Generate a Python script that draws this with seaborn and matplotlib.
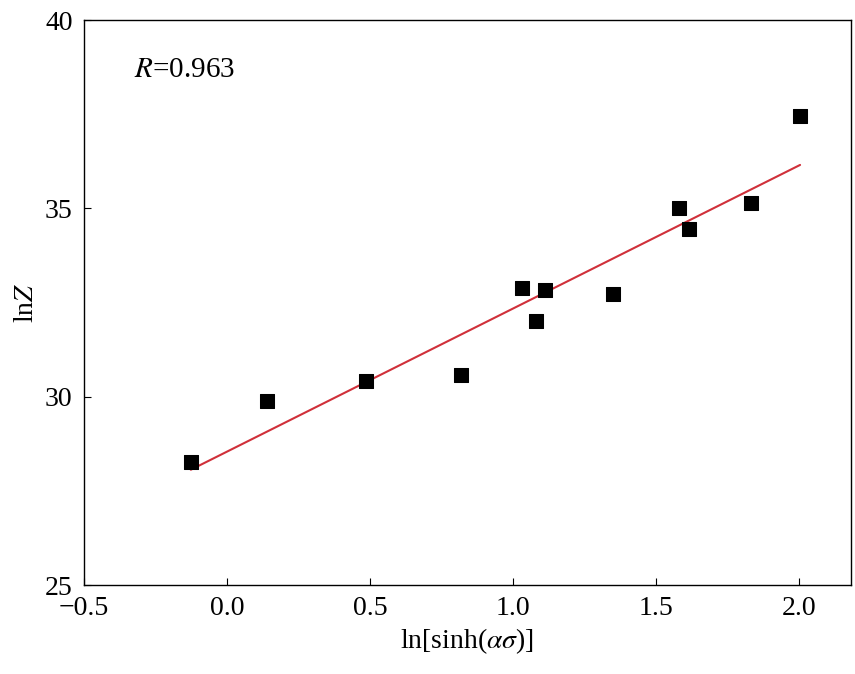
import numpy as np
import pandas as pd
import matplotlib
matplotlib.use('Agg')
import matplotlib.pyplot as plt
import seaborn as sns

# data
ln_sinh = [-0.126, 0.14, 0.486, 0.818, 1.031, 1.08, 1.112, 1.35, 1.58, 1.615, 1.832, 2.003]
ln_z    = [28.27, 29.88, 30.42, 30.57, 32.88, 32.01, 32.83, 32.72, 35.0, 34.45, 35.14, 37.45]

df = pd.DataFrame({'x': ln_sinh, 'y': ln_z})

sns.set_style('ticks')
plt.rcParams['font.family'] = ['Liberation Serif', 'DejaVu Serif']
plt.rcParams['mathtext.fontset'] = 'stix'
plt.rcParams['text.color'] = 'black'
plt.rcParams['axes.labelcolor'] = 'black'
plt.rcParams['xtick.color'] = 'black'
plt.rcParams['ytick.color'] = 'black'

fig, ax = plt.subplots(figsize=(8.55, 6.74), dpi=100)

sns.scatterplot(data=df, x='x', y='y', marker='s', s=90, color='black',
                edgecolor='black', ax=ax, zorder=3)

k, b = np.polyfit(df['x'], df['y'], 1)
xs = np.array([df['x'].min(), df['x'].max()])
ax.plot(xs, k * xs + b, color='#d0303a', lw=1.5, zorder=2)

ax.set_xlim(-0.5, 2.18)
ax.set_ylim(25, 40)
ax.set_xticks([-0.5, 0.0, 0.5, 1.0, 1.5, 2.0])
ax.set_xticklabels(['\u22120.5', '0.0', '0.5', '1.0', '1.5', '2.0'])
ax.set_yticks([25, 30, 35, 40])
ax.tick_params(direction='in', labelsize=20, length=5)
ax.tick_params(axis='x', pad=8)
ax.tick_params(axis='y', pad=8)
for s in ax.spines.values():
    s.set_visible(True)
    s.set_linewidth(1.0)
    s.set_color('black')

ax.set_xlabel(r'ln[sinh($\alpha\sigma$)]', fontsize=20, labelpad=4)
ax.set_ylabel(r'ln$Z$', fontsize=20, labelpad=4)
ax.text(0.065, 0.935, r'$R$=0.963', transform=ax.transAxes,
        fontsize=21, va='top')

plt.subplots_adjust(left=0.098, right=0.995, top=0.97, bottom=0.132)
plt.savefig('out.png', dpi=100)
